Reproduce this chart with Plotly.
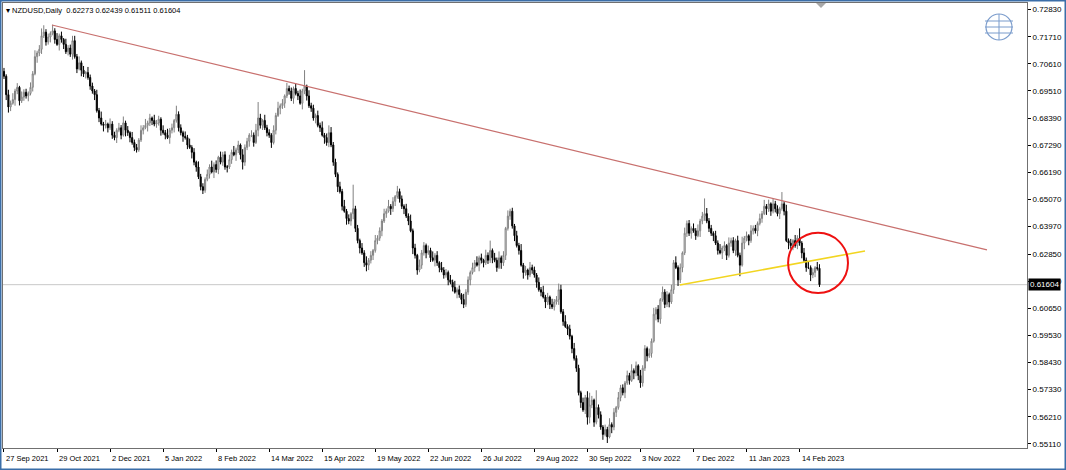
import plotly.graph_objects as go

# ---------------- data (NZDUSD daily) ----------------
opens = [
0.7030,0.7010,0.6935,0.6885,0.6900,0.6915,0.6950,0.6965,0.6910,0.6925,
0.6945,0.6930,0.6940,0.6965,0.7020,0.7090,0.7105,0.7120,0.7175,0.7190,
0.7150,0.7170,0.7185,0.7195,0.7160,0.7140,0.7175,0.7160,0.7140,0.7110,
0.7125,0.7100,0.7155,0.7090,0.7040,0.7065,0.7035,0.7020,0.7025,0.7005,
0.6970,0.6950,0.6935,0.6870,0.6840,0.6815,0.6810,0.6815,0.6800,0.6815,
0.6770,0.6760,0.6790,0.6800,0.6770,0.6820,0.6790,0.6780,0.6760,0.6740,
0.6720,0.6710,0.6750,0.6790,0.6800,0.6810,0.6820,0.6840,0.6830,0.6815,
0.6820,0.6835,0.6790,0.6780,0.6770,0.6760,0.6790,0.6800,0.6830,0.6855,
0.6800,0.6780,0.6765,0.6760,0.6730,0.6720,0.6700,0.6660,0.6640,0.6600,
0.6560,0.6545,0.6590,0.6610,0.6640,0.6620,0.6650,0.6630,0.6680,0.6660,
0.6690,0.6640,0.6640,0.6670,0.6700,0.6690,0.6710,0.6730,0.6690,0.6660,
0.6720,0.6745,0.6770,0.6770,0.6740,0.6790,0.6840,0.6810,0.6830,0.6800,
0.6780,0.6770,0.6740,0.6790,0.6850,0.6880,0.6890,0.6900,0.6930,0.6960,
0.6950,0.6920,0.6960,0.6940,0.6930,0.6900,0.6950,0.6970,0.6930,0.6890,
0.6880,0.6840,0.6850,0.6810,0.6800,0.6770,0.6760,0.6740,0.6780,0.6730,
0.6660,0.6610,0.6560,0.6540,0.6480,0.6460,0.6430,0.6420,0.6450,0.6470,
0.6390,0.6340,0.6310,0.6290,0.6250,0.6240,0.6260,0.6280,0.6300,0.6340,
0.6350,0.6380,0.6420,0.6450,0.6460,0.6480,0.6470,0.6500,0.6520,0.6540,
0.6510,0.6480,0.6470,0.6440,0.6420,0.6380,0.6310,0.6280,0.6220,0.6240,
0.6290,0.6320,0.6290,0.6300,0.6270,0.6260,0.6280,0.6250,0.6230,0.6220,
0.6200,0.6210,0.6180,0.6170,0.6150,0.6130,0.6140,0.6120,0.6100,0.6080,
0.6130,0.6180,0.6210,0.6230,0.6250,0.6240,0.6270,0.6260,0.6250,0.6280,
0.6260,0.6300,0.6270,0.6260,0.6230,0.6270,0.6250,0.6280,0.6390,0.6440,
0.6460,0.6400,0.6360,0.6320,0.6300,0.6240,0.6210,0.6220,0.6200,0.6230,
0.6220,0.6200,0.6170,0.6140,0.6130,0.6110,0.6090,0.6110,0.6080,0.6070,
0.6090,0.6100,0.6140,0.6050,0.6010,0.5990,0.5980,0.5950,0.5900,0.5860,
0.5820,0.5720,0.5680,0.5650,0.5700,0.5620,0.5670,0.5690,0.5600,0.5660,
0.5630,0.5580,0.5550,0.5570,0.5540,0.5590,0.5580,0.5640,0.5660,0.5700,
0.5740,0.5720,0.5760,0.5790,0.5770,0.5810,0.5800,0.5830,0.5790,0.5760,
0.5820,0.5900,0.5870,0.5880,0.5930,0.6040,0.6060,0.6020,0.6100,0.6130,
0.6080,0.6120,0.6090,0.6140,0.6250,0.6230,0.6180,0.6230,0.6290,0.6370,
0.6410,0.6370,0.6390,0.6380,0.6360,0.6380,0.6420,0.6440,0.6450,0.6420,
0.6390,0.6370,0.6360,0.6330,0.6300,0.6290,0.6310,0.6320,0.6280,0.6330,
0.6340,0.6300,0.6340,0.6280,0.6240,0.6330,0.6350,0.6360,0.6340,0.6380,
0.6390,0.6380,0.6410,0.6430,0.6450,0.6480,0.6470,0.6490,0.6460,0.6490,
0.6470,0.6450,0.6470,0.6490,0.6460,0.6340,0.6330,0.6320,0.6340,0.6320,
0.6350,0.6330,0.6290,0.6260,0.6230,0.6230,0.6200,0.6210,0.6230,0.62273]

highs = [
0.7044,0.7018,0.6955,0.6911,0.6941,0.6959,0.6982,0.6971,0.6948,0.6957,
0.6959,0.6948,0.6985,0.7031,0.7116,0.7114,0.7137,0.7205,0.7218,0.7202,
0.7184,0.7193,0.7220,0.7206,0.7186,0.7184,0.7192,0.7166,0.7163,0.7137,
0.7139,0.7175,0.7175,0.7101,0.7091,0.7074,0.7052,0.7031,0.7048,0.7017,
0.6984,0.6958,0.6955,0.6881,0.6866,0.6824,0.6832,0.6821,0.6838,0.6827,
0.6784,0.6798,0.6820,0.6811,0.6846,0.6829,0.6807,0.6786,0.6783,0.6752,
0.6734,0.6758,0.6810,0.6811,0.6836,0.6829,0.6857,0.6846,0.6853,0.6832,
0.6849,0.6843,0.6810,0.6791,0.6796,0.6799,0.6817,0.6836,0.6890,0.6867,
0.6814,0.6788,0.6785,0.6771,0.6756,0.6729,0.6717,0.6666,0.6663,0.6612,
0.6574,0.6598,0.6630,0.6651,0.6666,0.6659,0.6667,0.6686,0.6703,0.6702,
0.6704,0.6648,0.6690,0.6711,0.6726,0.6719,0.6747,0.6736,0.6713,0.6732,
0.6759,0.6778,0.6790,0.6781,0.6816,0.6905,0.6857,0.6836,0.6853,0.6812,
0.6794,0.6778,0.6810,0.6861,0.6906,0.6899,0.6917,0.6936,0.6983,0.6972,
0.6964,0.6968,0.6980,0.6951,0.6956,0.6959,0.7035,0.6976,0.6953,0.6902,
0.6894,0.6858,0.6870,0.6821,0.6826,0.6779,0.6777,0.6810,0.6803,0.6742,
0.6674,0.6618,0.6580,0.6551,0.6506,0.6469,0.6447,0.6456,0.6568,0.6482,
0.6404,0.6348,0.6330,0.6301,0.6276,0.6269,0.6297,0.6306,0.6363,0.6362,
0.6394,0.6428,0.6470,0.6471,0.6506,0.6489,0.6517,0.6526,0.6563,0.6552,
0.6524,0.6488,0.6490,0.6451,0.6446,0.6389,0.6327,0.6286,0.6263,0.6302,
0.6334,0.6328,0.6320,0.6311,0.6296,0.6289,0.6297,0.6256,0.6253,0.6232,
0.6224,0.6218,0.6200,0.6181,0.6176,0.6149,0.6157,0.6126,0.6123,0.6142,
0.6194,0.6218,0.6250,0.6261,0.6276,0.6279,0.6287,0.6266,0.6303,0.6292,
0.6340,0.6308,0.6290,0.6271,0.6296,0.6279,0.6297,0.6396,0.6463,0.6470,
0.6474,0.6408,0.6380,0.6331,0.6326,0.6249,0.6237,0.6226,0.6253,0.6242,
0.6234,0.6208,0.6190,0.6151,0.6156,0.6119,0.6127,0.6116,0.6103,0.6102,
0.6114,0.6165,0.6160,0.6061,0.6036,0.5999,0.5997,0.5956,0.5923,0.5872,
0.5834,0.5728,0.5700,0.5711,0.5726,0.5720,0.5707,0.5696,0.5730,0.5672,
0.5644,0.5588,0.5590,0.5581,0.5616,0.5599,0.5657,0.5666,0.5723,0.5752,
0.5754,0.5768,0.5810,0.5801,0.5836,0.5819,0.5847,0.5836,0.5813,0.5832,
0.5914,0.5908,0.5900,0.5941,0.6066,0.6069,0.6077,0.6106,0.6153,0.6142,
0.6134,0.6128,0.6160,0.6261,0.6276,0.6239,0.6247,0.6296,0.6393,0.6422,
0.6424,0.6398,0.6410,0.6391,0.6406,0.6429,0.6457,0.6512,0.6473,0.6432,
0.6404,0.6378,0.6380,0.6341,0.6326,0.6319,0.6337,0.6326,0.6353,0.6352,
0.6354,0.6348,0.6360,0.6291,0.6356,0.6359,0.6377,0.6366,0.6403,0.6402,
0.6404,0.6418,0.6450,0.6461,0.6506,0.6489,0.6507,0.6496,0.6513,0.6502,
0.6484,0.6478,0.6538,0.6501,0.6486,0.6349,0.6347,0.6346,0.6363,0.6362,
0.6390,0.6338,0.6310,0.6271,0.6256,0.6239,0.6227,0.6236,0.6253,0.62439]

lows = [
0.6999,0.6913,0.6862,0.6868,0.6894,0.6890,0.6937,0.6891,0.6901,0.6910,
0.6919,0.6908,0.6932,0.6948,0.7014,0.7065,0.7092,0.7101,0.7166,0.7135,
0.7139,0.7148,0.7177,0.7143,0.7134,0.7115,0.7147,0.7121,0.7101,0.7095,
0.7089,0.7078,0.7082,0.7023,0.7034,0.7010,0.7007,0.7001,0.6996,0.6955,
0.6939,0.6913,0.6862,0.6823,0.6809,0.6785,0.6797,0.6781,0.6791,0.6755,
0.6749,0.6738,0.6782,0.6753,0.6764,0.6765,0.6767,0.6741,0.6731,0.6705,
0.6699,0.6702,0.6742,0.6773,0.6794,0.6785,0.6807,0.6811,0.6806,0.6800,
0.6809,0.6768,0.6772,0.6753,0.6754,0.6735,0.6777,0.6781,0.6821,0.6785,
0.6769,0.6743,0.6752,0.6713,0.6714,0.6675,0.6647,0.6621,0.6591,0.6545,
0.6530,0.6535,0.6582,0.6593,0.6614,0.6595,0.6617,0.6611,0.6651,0.6645,
0.6629,0.6618,0.6632,0.6653,0.6684,0.6665,0.6697,0.6671,0.6630,0.6645,
0.6709,0.6723,0.6762,0.6723,0.6734,0.6765,0.6797,0.6791,0.6791,0.6765,
0.6759,0.6718,0.6732,0.6773,0.6844,0.6855,0.6877,0.6881,0.6921,0.6935,
0.6909,0.6898,0.6932,0.6913,0.6894,0.6875,0.6937,0.6911,0.6881,0.6865,
0.6829,0.6818,0.6802,0.6783,0.6764,0.6735,0.6727,0.6721,0.6721,0.6645,
0.6599,0.6538,0.6532,0.6463,0.6454,0.6405,0.6407,0.6401,0.6427,0.6375,
0.6329,0.6288,0.6282,0.6233,0.6215,0.6220,0.6247,0.6261,0.6291,0.6325,
0.6339,0.6358,0.6412,0.6433,0.6454,0.6445,0.6457,0.6481,0.6511,0.6495,
0.6469,0.6448,0.6432,0.6403,0.6374,0.6285,0.6267,0.6201,0.6211,0.6225,
0.6279,0.6268,0.6282,0.6253,0.6254,0.6235,0.6237,0.6211,0.6211,0.6185,
0.6189,0.6158,0.6162,0.6133,0.6124,0.6105,0.6107,0.6081,0.6065,0.6070,
0.6119,0.6158,0.6202,0.6213,0.6234,0.6215,0.6247,0.6231,0.6241,0.6245,
0.6249,0.6248,0.6252,0.6213,0.6224,0.6225,0.6237,0.6261,0.6381,0.6425,
0.6389,0.6338,0.6312,0.6283,0.6234,0.6185,0.6197,0.6181,0.6191,0.6205,
0.6189,0.6148,0.6132,0.6113,0.6104,0.6065,0.6077,0.6061,0.6061,0.6055,
0.6079,0.6078,0.6042,0.5993,0.5984,0.5955,0.5937,0.5881,0.5851,0.5805,
0.5709,0.5658,0.5642,0.5633,0.5590,0.5595,0.5657,0.5581,0.5591,0.5615,
0.5569,0.5528,0.5542,0.5515,0.5534,0.5555,0.5567,0.5621,0.5651,0.5685,
0.5709,0.5698,0.5752,0.5753,0.5764,0.5775,0.5787,0.5771,0.5740,0.5745,
0.5809,0.5848,0.5862,0.5863,0.5924,0.6015,0.6007,0.6001,0.6091,0.6065,
0.6069,0.6068,0.6082,0.6123,0.6224,0.6155,0.6167,0.6211,0.6281,0.6355,
0.6359,0.6348,0.6372,0.6343,0.6354,0.6355,0.6407,0.6421,0.6411,0.6375,
0.6359,0.6338,0.6322,0.6283,0.6284,0.6265,0.6297,0.6261,0.6271,0.6315,
0.6289,0.6278,0.6272,0.6195,0.6234,0.6305,0.6337,0.6321,0.6331,0.6365,
0.6369,0.6358,0.6402,0.6413,0.6444,0.6445,0.6457,0.6441,0.6451,0.6455,
0.6439,0.6428,0.6462,0.6443,0.6334,0.6305,0.6307,0.6301,0.6311,0.6305,
0.6319,0.6268,0.6252,0.6213,0.6224,0.6175,0.6187,0.6191,0.6218,0.61511]

closes = [
0.7010,0.6935,0.6885,0.6900,0.6915,0.6950,0.6965,0.6910,0.6925,0.6945,
0.6930,0.6940,0.6965,0.7020,0.7090,0.7105,0.7120,0.7175,0.7190,0.7150,
0.7170,0.7185,0.7195,0.7160,0.7140,0.7175,0.7160,0.7140,0.7110,0.7125,
0.7100,0.7155,0.7090,0.7040,0.7065,0.7035,0.7020,0.7025,0.7005,0.6970,
0.6950,0.6935,0.6870,0.6840,0.6815,0.6810,0.6815,0.6800,0.6815,0.6770,
0.6760,0.6790,0.6800,0.6770,0.6820,0.6790,0.6780,0.6760,0.6740,0.6720,
0.6710,0.6750,0.6790,0.6800,0.6810,0.6820,0.6840,0.6830,0.6815,0.6820,
0.6835,0.6790,0.6780,0.6770,0.6760,0.6790,0.6800,0.6830,0.6855,0.6800,
0.6780,0.6765,0.6760,0.6730,0.6720,0.6700,0.6660,0.6640,0.6600,0.6560,
0.6545,0.6590,0.6610,0.6640,0.6620,0.6650,0.6630,0.6680,0.6660,0.6690,
0.6640,0.6640,0.6670,0.6700,0.6690,0.6710,0.6730,0.6690,0.6660,0.6720,
0.6745,0.6770,0.6770,0.6740,0.6790,0.6840,0.6810,0.6830,0.6800,0.6780,
0.6770,0.6740,0.6790,0.6850,0.6880,0.6890,0.6900,0.6930,0.6960,0.6950,
0.6920,0.6960,0.6940,0.6930,0.6900,0.6950,0.6970,0.6930,0.6890,0.6880,
0.6840,0.6850,0.6810,0.6800,0.6770,0.6760,0.6740,0.6780,0.6730,0.6660,
0.6610,0.6560,0.6540,0.6480,0.6460,0.6430,0.6420,0.6450,0.6470,0.6390,
0.6340,0.6310,0.6290,0.6250,0.6240,0.6260,0.6280,0.6300,0.6340,0.6350,
0.6380,0.6420,0.6450,0.6460,0.6480,0.6470,0.6500,0.6520,0.6540,0.6510,
0.6480,0.6470,0.6440,0.6420,0.6380,0.6310,0.6280,0.6220,0.6240,0.6290,
0.6320,0.6290,0.6300,0.6270,0.6260,0.6280,0.6250,0.6230,0.6220,0.6200,
0.6210,0.6180,0.6170,0.6150,0.6130,0.6140,0.6120,0.6100,0.6080,0.6130,
0.6180,0.6210,0.6230,0.6250,0.6240,0.6270,0.6260,0.6250,0.6280,0.6260,
0.6300,0.6270,0.6260,0.6230,0.6270,0.6250,0.6280,0.6390,0.6440,0.6460,
0.6400,0.6360,0.6320,0.6300,0.6240,0.6210,0.6220,0.6200,0.6230,0.6220,
0.6200,0.6170,0.6140,0.6130,0.6110,0.6090,0.6110,0.6080,0.6070,0.6090,
0.6100,0.6140,0.6050,0.6010,0.5990,0.5980,0.5950,0.5900,0.5860,0.5820,
0.5720,0.5680,0.5650,0.5700,0.5620,0.5670,0.5690,0.5600,0.5660,0.5630,
0.5580,0.5550,0.5570,0.5540,0.5590,0.5580,0.5640,0.5660,0.5700,0.5740,
0.5720,0.5760,0.5790,0.5770,0.5810,0.5800,0.5830,0.5790,0.5760,0.5820,
0.5900,0.5870,0.5880,0.5930,0.6040,0.6060,0.6020,0.6100,0.6130,0.6080,
0.6120,0.6090,0.6140,0.6250,0.6230,0.6180,0.6230,0.6290,0.6370,0.6410,
0.6370,0.6390,0.6380,0.6360,0.6380,0.6420,0.6440,0.6450,0.6420,0.6390,
0.6370,0.6360,0.6330,0.6300,0.6290,0.6310,0.6320,0.6280,0.6330,0.6340,
0.6300,0.6340,0.6280,0.6240,0.6330,0.6350,0.6360,0.6340,0.6380,0.6390,
0.6380,0.6410,0.6430,0.6450,0.6480,0.6470,0.6490,0.6460,0.6490,0.6470,
0.6450,0.6470,0.6490,0.6460,0.6340,0.6330,0.6320,0.6340,0.6320,0.6350,
0.6330,0.6290,0.6260,0.6230,0.6230,0.6200,0.6210,0.6230,0.6227,0.61604]

# x-axis labels (bar index of each label, label text)
date_tick_index = [0, 24, 48, 72, 96, 120, 144, 168, 192, 216, 240, 264, 288, 312, 336, 360]
date_tick_labels = ["27 Sep 2021", "29 Oct 2021", "2 Dec 2021", "5 Jan 2022", "8 Feb 2022",
                    "14 Mar 2022", "15 Apr 2022", "19 May 2022", "22 Jun 2022", "26 Jul 2022",
                    "29 Aug 2022", "30 Sep 2022", "3 Nov 2022", "7 Dec 2022", "11 Jan 2023",
                    "14 Feb 2023"]
price_ticks = [0.72830, 0.71710, 0.70610, 0.69510, 0.68390, 0.67290, 0.66190, 0.65070,
               0.63970, 0.62850, 0.61750, 0.60650, 0.59530, 0.58430, 0.57330, 0.56210, 0.55110]

# drawn objects (bar index, price)
resistance_line = [(21.7, 0.72190), (444.8, 0.63020)]
support_line = [(305.8, 0.61590), (389.6, 0.62980)]
circle_box = [(354.8, 0.61264), (381.9, 0.63717)]
last_price = closes[-1]

W, H = 1066, 470
L_PX, R_PX, T_PX, B_PX = 3, 1027, 3, 448
X_RANGE = [-0.45, 462.9]
Y_RANGE = [0.54946, 0.73087]
FONT = "Liberation Sans, Arial"

idx = list(range(len(closes)))

fig = go.Figure()
fig.add_trace(go.Candlestick(
    x=idx, open=opens, high=highs, low=lows, close=closes,
    increasing=dict(line=dict(color="#808080", width=1), fillcolor="#ffffff"),
    decreasing=dict(line=dict(color="#000000", width=1), fillcolor="#000000"),
    whiskerwidth=0, hoverinfo="skip", showlegend=False))

def px_x(px):
    return (px - L_PX) / (R_PX - L_PX)

def px_y(py):
    return (B_PX - py) / (B_PX - T_PX)

shapes = []
shapes.append(dict(type="line", xref="paper", yref="y", x0=0, x1=1, y0=last_price, y1=last_price,
                   line=dict(color="#c8c8c8", width=1), layer="below"))
shapes.append(dict(type="line", xref="x", yref="y",
                   x0=resistance_line[0][0], y0=resistance_line[0][1],
                   x1=resistance_line[1][0], y1=resistance_line[1][1],
                   line=dict(color="#c8706e", width=1.2)))
shapes.append(dict(type="line", xref="x", yref="y",
                   x0=support_line[0][0], y0=support_line[0][1],
                   x1=support_line[1][0], y1=support_line[1][1],
                   line=dict(color="#f2d520", width=1.6)))
shapes.append(dict(type="circle", xref="x", yref="y",
                   x0=circle_box[0][0], y0=circle_box[0][1],
                   x1=circle_box[1][0], y1=circle_box[1][1],
                   line=dict(color="#ee1111", width=2)))
# window frame
shapes.append(dict(type="rect", xref="paper", yref="paper",
                   x0=px_x(0.5), x1=px_x(W - 0.5), y0=px_y(H - 0.5), y1=px_y(0.5),
                   line=dict(color="#3b6ea8", width=2), layer="above"))
# chart-shift marker at the top
shapes.append(dict(type="path", xref="paper", yref="paper",
                   path="M %f,%f L %f,%f L %f,%f Z" % (px_x(816), px_y(3), px_x(826), px_y(3),
                                                        px_x(821), px_y(8)),
                   fillcolor="#a8a8a8", line=dict(width=0)))
# logo (globe)
shapes.append(dict(type="circle", xref="paper", yref="paper",
                   x0=px_x(986), x1=px_x(1012), y0=px_y(40), y1=px_y(14),
                   line=dict(color="#7b9ccc", width=1.2)))
for yy in (21, 27, 33):
    shapes.append(dict(type="line", xref="paper", yref="paper",
                       x0=px_x(985), x1=px_x(1013), y0=px_y(yy), y1=px_y(yy),
                       line=dict(color="#7b9ccc", width=1)))
shapes.append(dict(type="line", xref="paper", yref="paper",
                   x0=px_x(999), x1=px_x(999), y0=px_y(40), y1=px_y(14),
                   line=dict(color="#7b9ccc", width=1)))

annotations = []
for i, t in zip(date_tick_index, date_tick_labels):
    annotations.append(dict(x=i, y=0, xref="x", yref="paper", text=t, showarrow=False,
                            xanchor="left", yanchor="top", xshift=0, yshift=-4,
                            font=dict(family=FONT, size=7.5, color="#000000")))
annotations.append(dict(x=0, y=1, xref="paper", yref="paper", xanchor="left", yanchor="top",
                        xshift=1, yshift=-1, showarrow=False,
                        text="\u25BE NZDUSD,Daily  0.62273 0.62439 0.61511 0.61604",
                        font=dict(family=FONT, size=7.5, color="#000000")))
annotations.append(dict(x=1, y=last_price, xref="paper", yref="y", xanchor="left", yanchor="middle",
                        xshift=1, showarrow=False, text="%.5f" % last_price, bgcolor="#000000",
                        borderpad=1,
                        font=dict(family=FONT, size=8, color="#ffffff")))

fig.update_layout(
    width=W, height=H,
    margin=dict(l=L_PX, r=W - R_PX, t=T_PX, b=H - B_PX, pad=0),
    paper_bgcolor="#ffffff", plot_bgcolor="#ffffff",
    shapes=shapes, annotations=annotations,
    xaxis=dict(range=X_RANGE, showgrid=False, zeroline=False, rangeslider=dict(visible=False),
               tickvals=date_tick_index, showticklabels=False, ticks="outside", ticklen=3,
               tickcolor="#000000", showline=True, linecolor="#707070", linewidth=1, mirror=True),
    yaxis=dict(range=Y_RANGE, side="right", showgrid=False, zeroline=False,
               tickvals=price_ticks, ticktext=["%.5f" % v for v in price_ticks],
               ticks="outside", ticklen=3, tickcolor="#000000",
               tickfont=dict(family=FONT, size=8, color="#000000"),
               showline=True, linecolor="#707070", linewidth=1, mirror=True),
)

fig.write_html("out.html", config={"displayModeBar": False},
               post_script="document.body.style.margin='0';document.body.style.overflow='hidden';")
